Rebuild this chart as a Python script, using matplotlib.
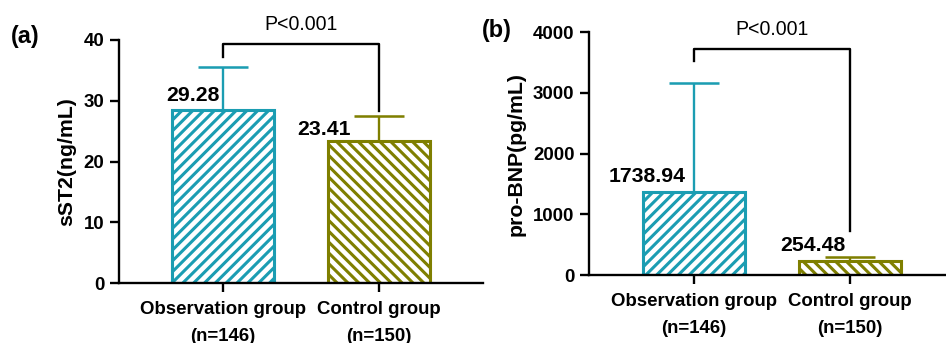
import numpy as np
import matplotlib.pyplot as plt

plt.rcParams['font.family'] = ['Liberation Sans', 'DejaVu Sans']
plt.rcParams['hatch.linewidth'] = 1.7

DPI = 130

groups = ['Observation group\n(n=146)', 'Control group\n(n=150)']
colors = ['#1b9db2', '#7f7f00']
hatches = ['////', '\\\\\\\\']

# panel a: sST2
sst2_bars = [28.4, 23.3]
sst2_tops = [35.6, 27.5]
sst2_labels = ['29.28', '23.41']

# panel b: pro-BNP
bnp_bars = [1375, 235]
bnp_tops = [3170, 302]
bnp_labels = ['1738.94', '254.48']


def panel(ax, bars, tops, labels, ymax, ystep, ylabel, xlim, lab_pos, bracket):
    x = np.arange(len(bars))
    for i in range(len(bars)):
        ax.bar(x[i], bars[i], width=0.655, color='white', edgecolor=colors[i],
               hatch=hatches[i], linewidth=1.7, zorder=2)
        ax.errorbar(x[i], bars[i], yerr=[[0], [tops[i] - bars[i]]], color=colors[i],
                    capsize=14, elinewidth=1.3, capthick=1.4, zorder=1)
        ax.text(x[i] + lab_pos[i][0], lab_pos[i][1], labels[i], ha='center', va='center',
                fontsize=11.8, fontweight='bold')
    # significance bracket
    yt, yl, yr = bracket
    ax.plot([0, 0, 1, 1], [yl, yt, yt, yr], color='black', lw=1.3, clip_on=False)
    ax.text(0.5, yt + ymax * 0.08, 'P<0.001', ha='center', va='center', fontsize=10.8)

    ax.set_xlim(*xlim)
    ax.set_ylim(0, ymax)
    ax.set_yticks(np.arange(0, ymax + 1, ystep))
    ax.set_xticks(x)
    ax.set_xticklabels(groups, fontsize=10.3, fontweight='bold', linespacing=1.75)
    ax.set_ylabel(ylabel, fontsize=11.8, fontweight='bold', labelpad=4)
    for lab in ax.get_yticklabels():
        lab.set_fontweight('bold')
        lab.set_fontsize(10.3)
    ax.spines['top'].set_visible(False)
    ax.spines['right'].set_visible(False)
    ax.spines['left'].set_linewidth(1.3)
    ax.spines['bottom'].set_linewidth(1.3)
    ax.tick_params(axis='y', width=1.3, length=5, direction='out', pad=3)
    ax.tick_params(axis='x', width=1.3, length=5, direction='out', pad=5)


fig = plt.figure(figsize=(946 / DPI, 343 / DPI), dpi=DPI)

ax1 = fig.add_axes([119 / 946, 1 - 283 / 343, 364 / 946, 243 / 343])
panel(ax1, sst2_bars, sst2_tops, sst2_labels, 40, 10, 'sST2(ng/mL)',
      (-0.667, 1.667), [(-0.19, 30.9), (-0.35, 25.3)], (39.4, 37.2, 28.3))

ax2 = fig.add_axes([589 / 946, 1 - 275 / 343, 357 / 946, 242.7 / 343])
panel(ax2, bnp_bars, bnp_tops, bnp_labels, 4000, 1000, 'pro-BNP(pg/mL)',
      (-0.673, 1.615), [(-0.30, 1620), (-0.24, 494)], (3720, 3527, 725))

fig.text(25 / 946, 1 - 36 / 343, '(a)', fontsize=13, fontweight='bold', ha='center', va='center')
fig.text(497 / 946, 1 - 30 / 343, '(b)', fontsize=13, fontweight='bold', ha='center', va='center')

fig.savefig('out.png', dpi=DPI)
